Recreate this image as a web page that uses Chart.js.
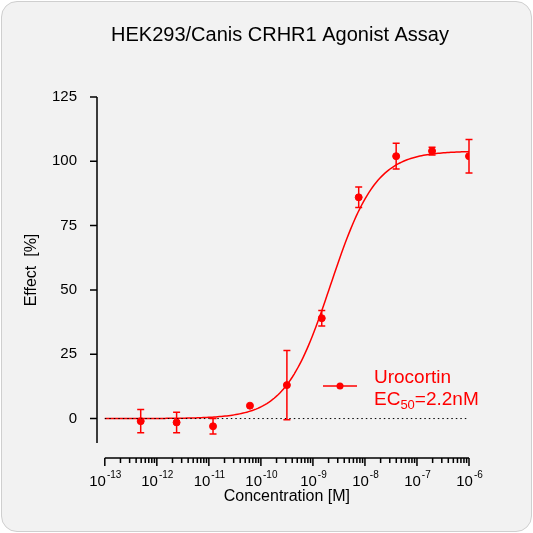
<!DOCTYPE html>
<html>
<head>
<script src="https://cdn.jsdelivr.net/npm/chart.js@4"></script>
<style>
  html, body { margin: 0; background: #ffffff; }
  .card { position: absolute; left: 1px; top: 1px; width: 529px; height: 529px; border: 1px solid #cfcfcf; border-radius: 16px; background: #f2f2f2; overflow: hidden; }
</style>
</head>
<body>
<div class="card"><canvas id="c" width="529" height="529"></canvas></div>
<script>
// log10 concentration [M]
const logConc = [-12.31, -11.62, -10.92, -10.21, -9.5, -8.83, -8.12, -7.4, -6.71, -6.0];
const effect = [-1, -1.5, -3, 5, 13, 39, 86, 102, 104, 102];
const errors = [4.5, 4, 3, 0, 13.5, 3, 4, 5, 1.5, 6.5];
// fitted 4-parameter curve
const fitBottom = 0, fitTop = 104, fitLogEC50 = -8.66, fitHill = 1.0;
const xTickValues = [-13, -12, -11, -10, -9, -8, -7, -6];
const yTickValues = [0, 25, 50, 75, 100, 125];
const FONT = 'Arial, "Liberation Sans", sans-serif';

const curve = [];
for (let i = 0; i <= 200; i++) {
  const x = -13 + 7 * i / 200;
  curve.push({ x: x, y: fitBottom + (fitTop - fitBottom) / (1 + Math.pow(10, (fitLogEC50 - x) * fitHill)) });
}
const RED = '#ff0000';

const axesPlugin = {
  id: 'axesPlugin',
  afterDatasetsDraw(chart) {
    const { ctx, scales: { x, y }, chartArea } = chart;
    ctx.save();
    // title
    ctx.fillStyle = '#000';
    ctx.textAlign = 'center';
    ctx.font = '20px ' + FONT;
    ctx.fillText('HEK293/Canis CRHR1 Agonist Assay', 278, 39);
    ctx.strokeStyle = '#000';
    ctx.lineWidth = 1.5;
    // y axis
    ctx.beginPath();
    ctx.moveTo(chartArea.left, y.getPixelForValue(125));
    ctx.lineTo(chartArea.left, chartArea.bottom);
    yTickValues.forEach(v => {
      const py = y.getPixelForValue(v);
      ctx.moveTo(chartArea.left - 7, py); ctx.lineTo(chartArea.left, py);
    });
    // x axis
    const ax = chartArea.bottom + 15;
    ctx.moveTo(x.getPixelForValue(-13), ax);
    ctx.lineTo(x.getPixelForValue(-6), ax);
    xTickValues.forEach(v => {
      const px = x.getPixelForValue(v);
      ctx.moveTo(px, ax); ctx.lineTo(px, ax + 8);
      if (v < -6) {
        for (let k = 2; k < 10; k++) {
          const pm = x.getPixelForValue(v + Math.log10(k));
          ctx.moveTo(pm, ax); ctx.lineTo(pm, ax + 5);
        }
      }
    });
    ctx.stroke();
    // x tick labels with superscripts
    ctx.textAlign = 'left';
    xTickValues.forEach(v => {
      const px = x.getPixelForValue(v);
      ctx.font = '15px ' + FONT;
      const wb = ctx.measureText('10').width;
      ctx.font = '10px ' + FONT;
      const we = ctx.measureText(String(v)).width;
      const x0 = px - (wb + we) / 2;
      ctx.font = '15px ' + FONT;
      ctx.fillText('10', x0, ax + 28);
      ctx.font = '10px ' + FONT;
      ctx.fillText(String(v), x0 + wb + 1, ax + 20);
    });
    ctx.textAlign = 'center';
    ctx.font = '16px ' + FONT;
    ctx.fillText('Concentration [M]', x.getPixelForValue(-9.5), ax + 43);
    // zero dotted line
    ctx.lineWidth = 1;
    ctx.setLineDash([1.5, 3]);
    ctx.beginPath();
    ctx.moveTo(x.getPixelForValue(-13), y.getPixelForValue(0));
    ctx.lineTo(x.getPixelForValue(-6), y.getPixelForValue(0));
    ctx.stroke();
    ctx.setLineDash([]);
    // error bars
    ctx.strokeStyle = RED;
    ctx.lineWidth = 1.5;
    ctx.beginPath();
    logConc.forEach((lx, i) => {
      if (!errors[i]) return;
      const px = x.getPixelForValue(lx);
      const top = y.getPixelForValue(effect[i] + errors[i]);
      const bot = y.getPixelForValue(effect[i] - errors[i]);
      ctx.moveTo(px, top); ctx.lineTo(px, bot);
      ctx.moveTo(px - 3.5, top); ctx.lineTo(px + 3.5, top);
      ctx.moveTo(px - 3.5, bot); ctx.lineTo(px + 3.5, bot);
    });
    ctx.stroke();
    // legend
    const lx0 = 321, ly = 384;
    ctx.beginPath();
    ctx.moveTo(lx0, ly); ctx.lineTo(lx0 + 34, ly);
    ctx.stroke();
    ctx.fillStyle = RED;
    ctx.beginPath(); ctx.arc(lx0 + 17, ly, 3.5, 0, Math.PI * 2); ctx.fill();
    ctx.textAlign = 'left';
    ctx.font = '19px ' + FONT;
    ctx.fillText('Urocortin', 372, 381);
    ctx.fillText('EC', 372, 403);
    const w = ctx.measureText('EC').width;
    ctx.font = '13px ' + FONT;
    ctx.fillText('50', 372 + w, 407);
    const w2 = ctx.measureText('50').width;
    ctx.font = '19px ' + FONT;
    ctx.fillText('=2.2nM', 372 + w + w2, 403);
    ctx.restore();
  }
};

new Chart(document.getElementById('c'), {
  type: 'scatter',
  data: {
    datasets: [
      { label: 'fit', data: curve, showLine: true, borderColor: RED, borderWidth: 1.5, pointRadius: 0, tension: 0 },
      { label: 'Urocortin', data: logConc.map((v, i) => ({ x: v, y: effect[i] })), backgroundColor: RED, borderColor: RED, pointRadius: 3.5 }
    ]
  },
  options: {
    responsive: false,
    animation: false,
    layout: { padding: { left: 0, right: 62, top: 95, bottom: 88 } },
    plugins: {
      legend: { display: false },
      tooltip: { enabled: false },
      title: { display: false }
    },
    scales: {
      x: {
        type: 'linear', min: -13.15, max: -6,
        grid: { display: false }, border: { display: false },
        ticks: { display: false },
        afterFit: s => { s.height = 0; }
      },
      y: {
        min: -9.5, max: 125,
        grid: { display: false }, border: { display: false },
        afterBuildTicks: s => { s.ticks = yTickValues.map(v => ({ value: v })); },
        afterFit: s => { s.width = 95; },
        ticks: { padding: 12, color: '#000', font: { size: 15, family: FONT } },
        title: { display: true, text: 'Effect  [%]', color: '#000', font: { size: 16, family: FONT }, padding: { top: 20, bottom: 0 } }
      }
    }
  },
  plugins: [axesPlugin]
});
</script>
</body>
</html>
